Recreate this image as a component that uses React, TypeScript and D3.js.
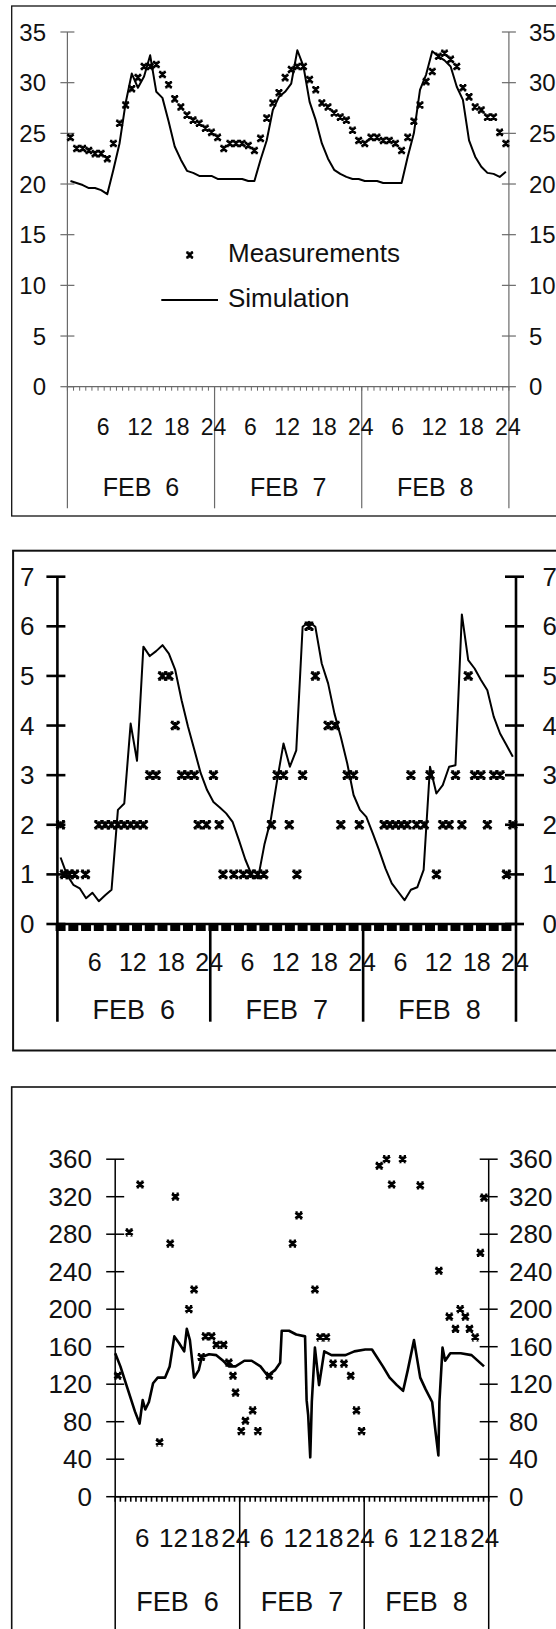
import React from 'react';
import * as d3 from 'd3';

// shared axis labels
const dayLabels = ['FEB  6', 'FEB  7', 'FEB  8'];
const hourLabels = [6, 12, 18, 24];
const HOURS = 72;

// panel 1 - temperature, hourly
const tempTicks = [0, 5, 10, 15, 20, 25, 30, 35];
const tempMeasured = [
  24.6, 23.5, 23.5, 23.3, 23.0, 23.0, 22.5, 24.0, 26.0, 27.8, 29.4, 30.5, 31.6, 31.6, 31.8, 30.8, 29.8, 28.4, 27.6, 26.8, 26.3, 26.0, 25.5, 25.1,
  24.6, 23.5, 24.0, 24.0, 24.0, 23.8, 23.3, 24.5, 26.5, 28.0, 29.0, 30.5, 31.3, 31.6, 31.6, 30.3, 29.3, 28.0, 27.6, 27.0, 26.6, 26.3, 25.3, 24.3,
  24.0, 24.6, 24.6, 24.3, 24.3, 24.0, 23.3, 24.6, 26.2, 27.8, 30.1, 31.1, 32.6, 32.9, 32.3, 31.6, 29.5, 28.6, 27.6, 27.3, 26.6, 26.6, 25.1, 24.0
];
const tempSimulated = [
  20.3, 20.1, 19.9, 19.6, 19.6, 19.4, 19.0, 21.4, 24.0, 28.0, 30.9, 29.5, 30.6, 32.7, 29.1, 28.5, 26.2, 23.7, 22.4, 21.3, 21.1, 20.8, 20.8, 20.8,
  20.5, 20.5, 20.5, 20.5, 20.5, 20.3, 20.3, 22.4, 24.3, 27.3, 28.6, 29.1, 29.9, 33.2, 31.6, 28.1, 26.3, 24.0, 22.5, 21.4, 21.0, 20.7, 20.5, 20.5,
  20.3, 20.3, 20.3, 20.1, 20.1, 20.1, 20.1, 22.7, 25.0, 29.3, 30.8, 33.1, 32.6, 32.2, 31.6, 29.6, 28.3, 24.3, 22.7, 21.7, 21.1, 21.0, 20.7, 21.2
];

// panel 2 - wind speed
const windTicks = [0, 1, 2, 3, 4, 5, 6, 7];
const windMeasHour = [
  0, 0.6, 1.4, 2.2, 3.9, 6, 7, 8, 9, 10, 11, 12, 13, 14, 15, 16, 17, 18, 19, 20, 21, 21.6, 22.9, 24, 24.9,
  25.5, 27.2, 28.7, 29.8, 30.9, 31.9, 33.1, 34, 35, 35.9, 37.1, 38, 39, 40, 42, 43.1, 44, 45, 46, 46.9,
  50.8, 51.7, 52.6, 53.5, 54.4, 55, 55.9, 57.1, 58, 59, 60, 61, 62, 63, 64, 65, 66, 67, 68, 69, 70, 71
];
const windMeasValue = [
  2, 1, 1, 1, 1, 2, 2, 2, 2, 2, 2, 2, 2, 3, 3, 5, 5, 4, 3, 3, 3, 2, 2, 3, 2,
  1, 1, 1, 1, 1, 1, 2, 3, 3, 2, 1, 3, 6, 5, 4, 4, 2, 3, 3, 2,
  2, 2, 2, 2, 2, 3, 2, 2, 3, 1, 2, 2, 3, 2, 5, 3, 3, 2, 3, 3, 1, 2
];
const windSimulated = [
  1.34, 0.99, 0.79, 0.72, 0.52, 0.63, 0.46, 0.58, 0.69, 2.3, 2.43, 4.04, 3.29, 5.59, 5.4, 5.5, 5.62, 5.45, 5.12, 4.51, 3.98, 3.51, 3.04, 2.7,
  2.46, 2.35, 2.23, 2.06, 1.69, 1.3, 0.99, 0.92, 1.6, 2.1, 2.9, 3.64, 3.17, 3.5, 5.99, 6.09, 5.99, 5.25, 4.85, 4.24, 3.77, 3.24, 2.6, 2.3,
  2.16, 1.83, 1.49, 1.12, 0.82, 0.65, 0.48, 0.69, 0.74, 1.09, 3.17, 2.63, 2.8, 3.17, 3.2, 6.24, 5.32, 5.15, 4.92, 4.71, 4.18, 3.84, 3.61, 3.37
];

// panel 3 - wind direction
const dirTicks = [0, 40, 80, 120, 160, 200, 240, 280, 320, 360];
const dirMeasHour = [
  0, 2.2, 4.3, 8.05, 10.1, 11.1, 13.7, 14.7, 16.1, 16.9, 18.1, 19, 20.4, 21.4, 22.2, 22.7, 23.8, 24.6, 26, 27, 29.2,
  33.7, 34.9, 38, 39, 40.2, 41.5, 43.6, 44.9, 46, 47, 50.4, 51.8, 52.8, 54.9, 58.3, 61.9, 63.9, 65.1, 66, 67, 67.8, 68.9, 69.9, 70.6
];
const dirMeasValue = [
  129, 282, 333, 58, 270, 320, 200, 221, 149, 171, 171, 162, 162, 143, 129, 111, 70, 81, 92, 70, 129,
  270, 300, 221, 170, 170, 142, 142, 129, 92, 70, 353, 360, 333, 360, 332, 241, 192, 179, 200, 192, 179, 170, 260, 319
];
const dirSimHour = [
  -0.5, 0.5, 1.9, 3.3, 4.2, 4.8, 5.3, 6, 6.8, 7.7, 9.1, 10, 10.9, 11.8, 12.8, 13.3, 13.9, 14.7, 15.6, 16.2, 17.6, 19, 20.3, 21.4, 22.7,
  24.4, 25.8, 27.5, 28.9, 30.3, 31.3, 31.6, 33, 34.4, 36.1, 36.4, 36.7, 37.1, 37.4, 38, 38.8, 39.8, 41.2, 42.6, 43.9, 45.6, 47.7,
  49, 51.1, 52.4, 53.8, 55, 55.9, 57.1, 58.3, 59.3, 60.6, 61.3, 61.8, 62, 62.6, 63.1, 64.1, 66.1, 68.2, 70.6
];
const dirSimValue = [
  153, 139, 115, 91, 78, 103, 93, 101, 121, 127, 127, 139, 171, 164, 155, 179, 167, 127, 135, 149, 152, 151, 145, 139, 139,
  145, 145, 139, 129, 135, 143, 177, 177, 173, 171, 103, 87, 42, 101, 159, 119, 155, 151, 151, 151, 155, 157,
  157, 139, 127, 119, 113, 135, 167, 127, 115, 101, 67, 44, 101, 159, 145, 153, 153, 151, 139
];

const FONT = '"Liberation Sans", Arial, sans-serif';

const markerPath = (w, h) => `M${-w},${-h}L${w},${h}M${w},${-h}L${-w},${h}M0,${-h}L0,${h}M${-w},${-h}L${-w / 3},${-h}M${w / 3},${-h}L${w},${-h}M${-w},${h}L${-w / 3},${h}M${w / 3},${h}L${w},${h}`;

function Panel({ cfg }) {
  const x = d3.scaleLinear().domain([0, HOURS]).range([cfg.x0, cfg.x1]);
  const y = d3.scaleLinear().domain([0, cfg.max]).range([cfg.yBase, cfg.yTop]);
  const cx = (i) => x(i + 0.5);
  const line = d3.line().x((d) => cx(d[0])).y((d) => y(d[1]));
  const days = [0, 24, 48, 72];
  const mk = markerPath(cfg.mw, cfg.mh);

  return (
    <g>
      <rect x={cfg.frame[0]} y={cfg.frame[1]} width={cfg.frame[2]} height={cfg.frame[3]} fill="none" stroke="#111" strokeWidth={cfg.frameW} />

      {/* y axes */}
      {[cfg.x0, cfg.x1].map((ax, k) => (
        <g key={`ax-${k}`}>
          <line x1={ax} x2={ax} y1={y(cfg.max)} y2={cfg.sepBottom} stroke={cfg.axisColor} strokeWidth={cfg.axisW} />
          {cfg.ticks.map((t) => (
            <line key={t} x1={ax - cfg.tickL} x2={ax + cfg.tickR} y1={y(t)} y2={y(t)} stroke={cfg.axisColor} strokeWidth={cfg.axisW} />
          ))}
        </g>
      ))}
      {cfg.ticks.map((t) => (
        <g key={`lab-${t}`} fontFamily={FONT} fontSize={cfg.tickFont} fill="#111">
          <text x={cfg.leftLabelX} y={y(t)} textAnchor="end" dominantBaseline="central">{t}</text>
          <text x={cfg.rightLabelX} y={y(t)} textAnchor="start" dominantBaseline="central">{t}</text>
        </g>
      ))}

      {/* x axis */}
      <line x1={cfg.x0} x2={cfg.x1} y1={y(0)} y2={y(0)} stroke={cfg.axisColor} strokeWidth={cfg.axisW} />
      {cfg.squares
        ? d3.range(36).map((k) => (
            <rect key={`sq-${k}`} x={cx(2 * k) - 5} y={y(0)} width={10} height={7} fill="#000" />
          ))
        : d3.range(HOURS + 1).map((h) => (
            <line key={`mt-${h}`} x1={x(h)} x2={x(h)} y1={y(0)} y2={y(0) + cfg.minorL} stroke={cfg.axisColor} strokeWidth={cfg.minorW} />
          ))}
      {days.slice(1, 3).map((d) => (
        <line key={`sep-${d}`} x1={x(d)} x2={x(d)} y1={y(0)} y2={cfg.sepBottom} stroke={cfg.axisColor} strokeWidth={cfg.axisW} />
      ))}
      {days.slice(0, 3).map((d, k) => (
        <g key={`day-${d}`} fontFamily={FONT} fill="#111">
          {hourLabels.map((h) => (
            <text key={h} x={x(d + h) + cfg.hourShift} y={cfg.hourY} textAnchor="middle" dominantBaseline="central" fontSize={cfg.hourFont}>{h}</text>
          ))}
          <text x={x(d + 12)} y={cfg.dayY} textAnchor="middle" dominantBaseline="central" fontSize={cfg.dayFont} xmlSpace="preserve">{dayLabels[k]}</text>
        </g>
      ))}

      {/* simulation */}
      <path d={line(cfg.sim)} fill="none" stroke="#000" strokeWidth={cfg.simW} strokeLinejoin="round" />
      {/* measurements */}
      {cfg.meas.map((d, i) => (
        <path key={`m-${i}`} d={mk} transform={`translate(${cx(d[0])},${y(d[1])})`} fill="none" stroke="#000" strokeWidth={cfg.mStroke} />
      ))}
    </g>
  );
}

export default function App() {
  const panels = [
    {
      x0: 67.4, x1: 508.9, yBase: 386.7, yTop: 32, max: 35, ticks: tempTicks,
      frame: [11.7, 6, 600, 510], frameW: 1.3, axisColor: '#6a6a6a', axisW: 1.2, tickL: 7, tickR: 7,
      leftLabelX: 46, rightLabelX: 529, tickFont: 24,
      minorL: 4, minorW: 1, sepBottom: 508.3, hourY: 427, hourFont: 23, hourShift: -1, dayY: 487, dayFont: 25,
      sim: tempSimulated.map((v, i) => [i, v]),
      meas: tempMeasured.map((v, i) => [i, v]),
      mw: 3.3, mh: 2.8, mStroke: 2, simW: 2
    },
    {
      x0: 57.4, x1: 516, yBase: 924, yTop: 576.7, max: 7, ticks: windTicks,
      frame: [13.1, 550.7, 600, 499.8], frameW: 2, axisColor: '#000', axisW: 2.6, tickL: 11, tickR: 8,
      leftLabelX: 34.5, rightLabelX: 542.6, tickFont: 26,
      squares: true, sepBottom: 1021.7, hourY: 962, hourFont: 25, hourShift: -1, dayY: 1010, dayFont: 27,
      sim: windSimulated.map((v, i) => [i, v]),
      meas: windMeasHour.map((h, i) => [h, windMeasValue[i]]),
      mw: 4.3, mh: 3.6, mStroke: 2.4, simW: 2
    },
    {
      x0: 115.2, x1: 488.7, yBase: 1496.7, yTop: 1159.2, max: 360, ticks: dirTicks,
      frame: [11.7, 1087, 600, 600], frameW: 1.6, axisColor: '#000', axisW: 1.5, tickL: 9, tickR: 9,
      leftLabelX: 92, rightLabelX: 509, tickFont: 26,
      minorL: 5, minorW: 1.6, sepBottom: 1640, hourY: 1538, hourFont: 26, hourShift: -4, dayY: 1602, dayFont: 27,
      sim: dirSimHour.map((h, i) => [h, dirSimValue[i]]),
      meas: dirMeasHour.map((h, i) => [h, dirMeasValue[i]]),
      mw: 3.4, mh: 2.8, mStroke: 2.6, simW: 2.6
    }
  ];

  return (
    <svg width={556} height={1629} viewBox="0 0 556 1629" style={{ position: 'absolute', left: 0, top: 0, background: '#fff' }}>
      <rect x={0} y={0} width={556} height={1629} fill="#fff" />
      {panels.map((p, i) => <Panel key={i} cfg={p} />)}

      {/* legend of panel 1 */}
      <g fontFamily={FONT} fontSize={26} fill="#111">
        <path d={markerPath(3.3, 2.8)} transform="translate(189.7,255)" fill="none" stroke="#000" strokeWidth={2} />
        <text x={228} y={262}>Measurements</text>
        <line x1={161.3} x2={218} y1={300} y2={300} stroke="#000" strokeWidth={2} />
        <text x={228} y={307}>Simulation</text>
      </g>
    </svg>
  );
}
